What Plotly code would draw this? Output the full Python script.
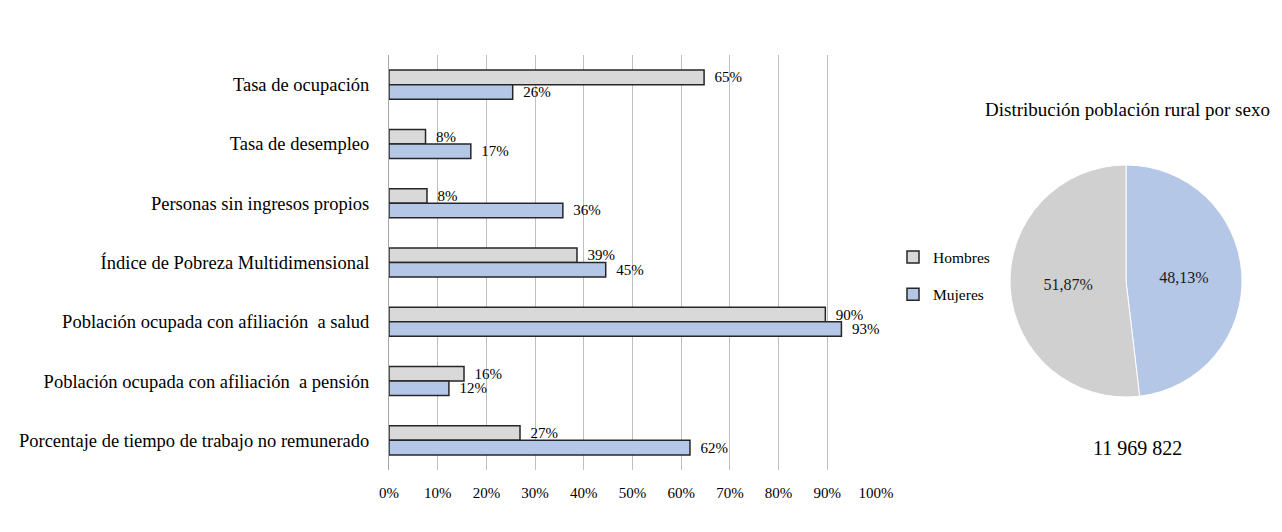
import plotly.graph_objects as go

categories = [
    "Tasa de ocupación",
    "Tasa de desempleo",
    "Personas sin ingresos propios",
    "Índice de Pobreza Multidimensional",
    "Población ocupada con afiliación  a salud",
    "Población ocupada con afiliación  a pensión",
    "Porcentaje de tiempo de trabajo no remunerado",
]
hombres = [64.7, 7.5, 7.8, 38.6, 89.6, 15.4, 26.9]
mujeres = [25.4, 16.8, 35.7, 44.5, 92.9, 12.3, 61.8]
hombres_labels = ["65%", "8%", "8%", "39%", "90%", "16%", "27%"]
mujeres_labels = ["26%", "17%", "36%", "45%", "93%", "12%", "62%"]

pie_labels = ["Mujeres", "Hombres"]
pie_values = [48.13, 51.87]
pie_text = ["48,13%", "51,87%"]
pie_colors = ["#B4C7E7", "#D0D0D0"]
pie_title = "Distribución población rural por sexo"
total_text = "11 969 822"

x_ticks = [0, 10, 20, 30, 40, 50, 60, 70, 80, 90, 100]
x_ticktext = [f"{v}%" for v in x_ticks]

GRAY = "#D9D9D9"
BLUE = "#B4C7E7"
EDGE = "#262626"
FONT = "Liberation Serif"

W, H = 1282, 532


def px(x):
    return x / W


def py(y):
    return (H - y) / H


pad = "\u2002"

fig = go.Figure()
fig.add_trace(go.Bar(
    y=categories, x=hombres, orientation="h", name="Hombres",
    marker=dict(color=GRAY, line=dict(color=EDGE, width=1.5)),
    text=[pad + s for s in hombres_labels], textposition="outside", constraintext="none",
    textfont=dict(family=FONT, size=15, color="#000000"),
    cliponaxis=False, legendgroup="h", hoverinfo="skip",
))
fig.add_trace(go.Bar(
    y=categories, x=mujeres, orientation="h", name="Mujeres",
    marker=dict(color=BLUE, line=dict(color=EDGE, width=1.5)),
    text=[pad + s for s in mujeres_labels], textposition="outside", constraintext="none",
    textfont=dict(family=FONT, size=15, color="#000000"),
    cliponaxis=False, legendgroup="m", hoverinfo="skip",
))

cx, cy, d = 1126, 281, 232
fig.add_trace(go.Pie(
    labels=pie_labels, values=pie_values, text=pie_text,
    textinfo="text", textposition="inside", insidetextorientation="horizontal",
    sort=False, direction="clockwise", rotation=0,
    marker=dict(colors=pie_colors, line=dict(color="#FFFFFF", width=1)),
    textfont=dict(family=FONT, size=16, color="#1a1a1a"),
    domain=dict(x=[px(cx - d / 2), px(cx + d / 2)],
                y=[py(cy + d / 2), py(cy - d / 2)]),
    showlegend=False, hoverinfo="skip",
))

fig.update_layout(
    width=W, height=H,
    margin=dict(l=0, r=0, t=0, b=0, pad=0, autoexpand=False),
    paper_bgcolor="#FFFFFF", plot_bgcolor="#FFFFFF",
    barmode="group", bargap=0.51, bargroupgap=0.0,
    font=dict(family=FONT, color="#000000"),
    xaxis=dict(
        domain=[px(389), px(876)], range=[0, 100],
        tickvals=x_ticks, ticktext=x_ticktext,
        showgrid=True, gridcolor="#BFBFBF", gridwidth=1,
        zeroline=False, showline=False, automargin=False,
        tickfont=dict(family=FONT, size=15, color="#000000"),
        ticks="", ticklabelstandoff=12,
    ),
    yaxis=dict(
        domain=[py(470), py(55)],
        autorange="reversed", showgrid=False, zeroline=False,
        showline=True, linecolor="#A6A6A6", linewidth=1, automargin=False,
        tickfont=dict(family=FONT, size=18.5, color="#000000"),
        ticks="", ticklabelstandoff=15,
    ),
    legend=dict(
        x=px(893), y=py(276), xanchor="left", yanchor="middle",
        font=dict(family=FONT, size=15.5, color="#000000"),
        traceorder="grouped", tracegroupgap=14,
        bgcolor="rgba(0,0,0,0)", itemwidth=30,
    ),
    showlegend=True,
    annotations=[
        dict(text=pie_title, x=px(1127), y=py(110), xref="paper", yref="paper",
             showarrow=False, font=dict(family=FONT, size=19, color="#000000"),
             xanchor="center", yanchor="middle"),
        dict(text=total_text, x=px(1137), y=py(448), xref="paper", yref="paper",
             showarrow=False, font=dict(family=FONT, size=20, color="#000000"),
             xanchor="center", yanchor="middle"),
    ],
)

fig.write_html(
    "out.html",
    config={"displayModeBar": False},
    post_script="document.body.style.margin='0';document.body.style.overflow='hidden';",
)
